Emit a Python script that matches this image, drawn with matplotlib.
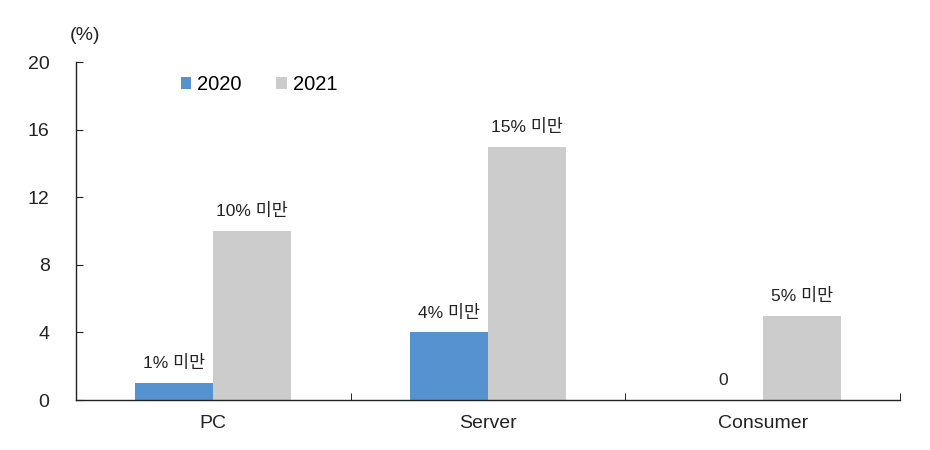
import numpy as np
import matplotlib.pyplot as plt

plt.rcParams['font.family'] = ['Liberation Sans', 'Noto Sans CJK KR', 'DejaVu Sans']

categories = ["PC", "Server", "Consumer"]
years = ["2020", "2021"]
values_2020 = [1, 4, 0]
values_2021 = [10, 15, 5]
labels_2020 = ["1% 미만", "4% 미만", "0"]
labels_2021 = ["10% 미만", "15% 미만", "5% 미만"]
yticks = [0, 4, 8, 12, 16, 20]

fig = plt.figure(figsize=(9.3, 4.5), dpi=100)
ax = fig.add_axes([0.0817, 0.111, 0.886, 0.751])

x = np.arange(len(categories))
w = 0.284
b1 = ax.bar(x - w / 2, values_2020, w, color="#5592cf", label=years[0])
b2 = ax.bar(x + w / 2, values_2021, w, color="#cccccc", label=years[1])

for bars, labs in ((b1, labels_2020), (b2, labels_2021)):
    for r, t in zip(bars, labs):
        ax.annotate(t, (r.get_x() + r.get_width() / 2, r.get_height()),
                    xytext=(0, 8.5), textcoords="offset points",
                    ha="center", va="bottom", fontsize=12.5, color="#222222")

ax.set_xlim(-0.5, len(categories) - 0.5)
ax.set_ylim(0, 20)
ax.set_yticks(yticks)
ax.tick_params(axis="y", direction="in", length=5, labelsize=14, pad=19, colors="#222222")

# category names centred, tick marks on the group boundaries
ax.set_xticks(x)
ax.set_xticklabels(categories, fontsize=14, color="#222222")
ax.tick_params(axis="x", length=0, pad=11)
ax.set_xticks(np.arange(len(categories) + 1) - 0.5, minor=True)
ax.tick_params(axis="x", which="minor", direction="in", length=5)

for s in ("top", "right"):
    ax.spines[s].set_visible(False)
for s in ("left", "bottom"):
    ax.spines[s].set_color("#222222")
    ax.spines[s].set_linewidth(1)

ax.legend(loc="upper left", bbox_to_anchor=(0.105, 1.015), ncol=2, frameon=False,
          fontsize=14.5, handlelength=0.5, handleheight=0.5, handletextpad=0.3,
          columnspacing=1.75)

fig.text(0.075, 0.912, "(%)", fontsize=14, color="#222222")

fig.savefig("out.png", dpi=100)
